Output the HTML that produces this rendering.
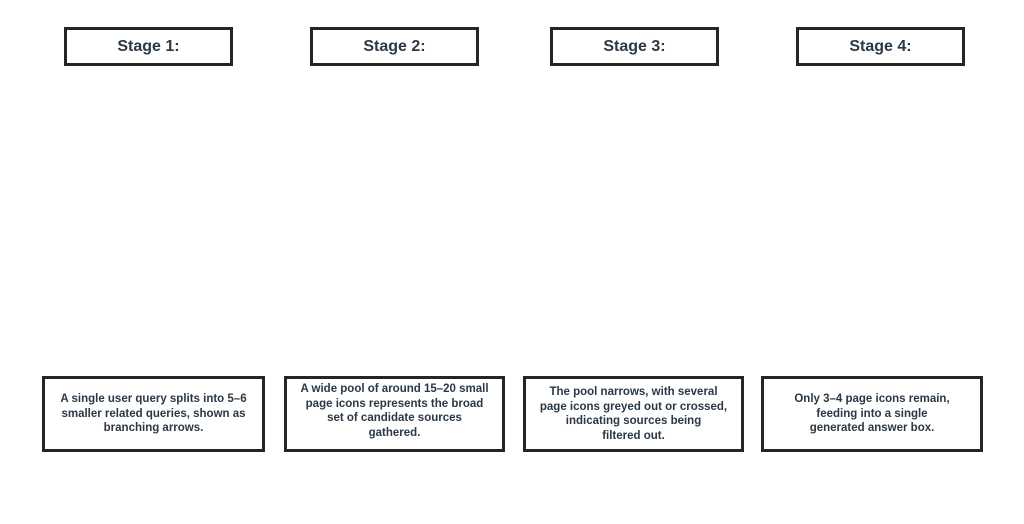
<!DOCTYPE html>
<html><head><style>
body{margin:0;width:1024px;height:524px;background:#fff;position:relative;font-family:"Liberation Sans",sans-serif;overflow:hidden}
.b{position:absolute;box-sizing:border-box;border:3px solid #252525;background:#fff;display:flex;align-items:center;justify-content:center;text-align:center;color:#2b3845;font-weight:bold;white-space:nowrap}
.t{top:27px;height:39px;width:169px;font-size:16px}
.d{top:376px;height:76px;font-size:11.5px;line-height:14.5px}
</style></head><body>
<div class="b t" style="left:64px">Stage 1:</div>
<div class="b t" style="left:310px">Stage 2:</div>
<div class="b t" style="left:550px">Stage 3:</div>
<div class="b t" style="left:796px">Stage 4:</div>
<div class="b d" style="left:42px;width:223px">A single user query splits into 5–6<br>smaller related queries, shown as<br>branching arrows.</div>
<div class="b d" style="left:284px;width:221px;align-items:flex-start;padding-top:3px">A wide pool of around 15–20 small<br>page icons represents the broad<br>set of candidate sources<br>gathered.</div>
<div class="b d" style="left:523px;width:221px">The pool narrows, with several<br>page icons greyed out or crossed,<br>indicating sources being<br>filtered out.</div>
<div class="b d" style="left:761px;width:222px">Only 3–4 page icons remain,<br>feeding into a single<br>generated answer box.</div>
</body></html>
